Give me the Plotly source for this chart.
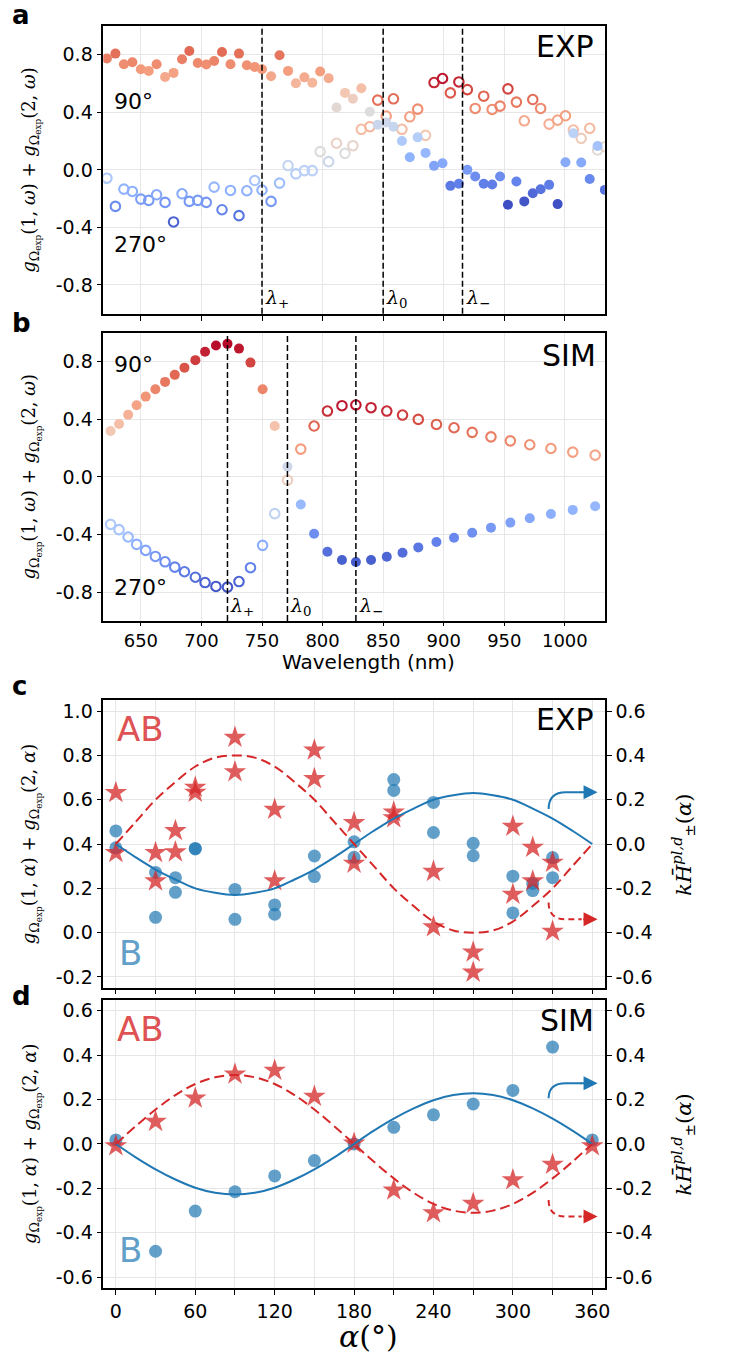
import plotly.graph_objects as go

# ---------------- data ----------------
# Panel a (EXP): wavelength grid and the two series (filled / open markers)
lam_a = [622, 629, 636, 643, 650, 656.5, 663, 670, 677, 684, 690, 697, 704, 710.5, 717, 724,
         731, 737.5, 744, 750, 757.5, 764.5, 771.5, 778, 785, 791.5, 798, 805, 811.5, 818.5,
         825, 832, 839, 845.5, 852.5, 858.5, 865.5, 872, 878.5, 885, 892, 899, 905.5, 912.5,
         919.5, 926, 933, 940, 946.5, 953, 960, 966.5, 973.5, 980, 987, 994, 1000.5, 1007,
         1013.5, 1020.5, 1027, 1033]
filled_a = [0.774, 0.808, 0.734, 0.748, 0.699, 0.688, 0.734, 0.646, 0.674, 0.769, 0.826, 0.743,
            0.732, 0.757, 0.819, 0.734, 0.808, 0.727, 0.715, 0.699, 0.651, 0.796, 0.688, 0.602,
            0.643, 0.605, 0.684, 0.637, 0.434, 0.535, 0.495, 0.567, 0.404, 0.314, 0.33, 0.300,
            0.201, 0.088, 0.226, 0.118, 0.028, 0.046, -0.111, -0.097, 0.0, -0.046, -0.097,
            -0.101, -0.046, -0.242, -0.081, -0.219, -0.162, -0.134, -0.104, -0.238, 0.053,
            0.254, 0.051, -0.064, 0.166, -0.139]
open_a = [-0.058, -0.254, -0.134, -0.150, -0.203, -0.212, -0.173, -0.226, -0.362, -0.166, -0.219,
          -0.212, -0.226, -0.12, -0.277, -0.143, -0.318, -0.145, -0.074, -0.140, -0.219, -0.092,
          0.03, -0.028, -0.005, -0.005, 0.127, 0.057, 0.185, 0.115, 0.168, 0.282, 0.300, 0.485,
          0.374, 0.494, 0.282, 0.369, 0.422, 0.240, 0.607, 0.635, 0.535, 0.611, 0.558, 0.427,
          0.512, 0.420, 0.443, 0.563, 0.471, 0.341, 0.489, 0.427, 0.318, 0.346, 0.376, 0.277,
          0.219, 0.289, 0.138, 0.161]
lines_a = [750, 850, 915.5]

# Panel b (SIM)
lam_b = [625, 632, 639.5, 646.5, 654, 662, 670, 678, 686, 695, 703, 712,
         721.5, 731, 740.5, 750.5, 760.5, 771, 782, 793, 804, 816, 827.5,
         840, 853, 866, 879, 894, 908.5, 923.5, 939, 955, 971, 988.5, 1006.5, 1025]
filled_b = [0.318, 0.367, 0.431, 0.497, 0.557, 0.608, 0.659, 0.708, 0.758, 0.81, 0.868, 0.911,
            0.923, 0.89, 0.793, 0.608, 0.353, 0.070, -0.192, -0.394, -0.519, -0.577, -0.591,
            -0.577, -0.554, -0.526, -0.489, -0.452, -0.422, -0.387, -0.352, -0.317, -0.287,
            -0.257, -0.229, -0.204]
open_b = [-0.329, -0.366, -0.417, -0.468, -0.51, -0.552, -0.589, -0.626, -0.658, -0.696, -0.733, -0.76,
          -0.765, -0.726, -0.63, -0.475, -0.255, -0.023, 0.193, 0.353, 0.457, 0.494, 0.499,
          0.48, 0.457, 0.429, 0.399, 0.364, 0.341, 0.309, 0.278, 0.25, 0.223, 0.197, 0.172, 0.151]
lines_b = [721.5, 771, 827.5]
line_names = ["+", "0", "\u2212"]

# Panel c (EXP), angle data
alpha_c = [0, 0, 30, 30, 45, 45, 60, 60, 90, 90, 120, 120, 150, 150, 180, 180,
           210, 210, 240, 240, 270, 270, 300, 300, 315, 315, 330, 330]
AB_c = [0.632, 0.361, 0.361, 0.233, 0.46, 0.364, 0.656, 0.633, 0.881, 0.726, 0.556, 0.234,
        0.824, 0.695, 0.496, 0.313, 0.544, 0.518, 0.276, 0.026, -0.088, -0.179, 0.48, 0.173,
        0.385, 0.233, 0.317, 0.006]
B_c = [0.459, 0.383, 0.272, 0.069, 0.248, 0.182, 0.38, 0.378, 0.195, 0.06, 0.125, 0.083,
       0.346, 0.253, 0.41, 0.34, 0.691, 0.642, 0.588, 0.452, 0.403, 0.347, 0.255, 0.089,
       0.222, 0.19, 0.339, 0.248]

# Panel d (SIM)
alpha_d = [0, 30, 60, 90, 120, 150, 180, 210, 240, 270, 300, 330, 360]
AB_d = [-0.009, 0.101, 0.206, 0.314, 0.331, 0.214, 0.003, -0.208, -0.31, -0.268, -0.162, -0.092, -0.009]
B_d = [0.018, -0.483, -0.302, -0.215, -0.144, -0.075, 0.0, 0.075, 0.131, 0.18, 0.241, 0.436, 0.018]

# model curves (right axis), read every 15 degrees
alpha_fit = [0, 15, 30, 45, 60, 75, 90, 105, 120, 135, 150, 165, 180,
             195, 210, 225, 240, 255, 270, 285, 300, 315, 330, 345, 360]
fitAB_c = [0, 0.10, 0.20, 0.28, 0.35, 0.39, 0.40, 0.39, 0.35, 0.28, 0.20, 0.10, 0,
           -0.10, -0.20, -0.28, -0.35, -0.39, -0.40, -0.39, -0.35, -0.28, -0.20, -0.10, 0]
fitB_c = [0, -0.06, -0.115, -0.16, -0.20, -0.22, -0.23, -0.22, -0.20, -0.16, -0.115, -0.06, 0,
          0.06, 0.115, 0.16, 0.20, 0.22, 0.23, 0.22, 0.20, 0.16, 0.115, 0.06, 0]
fitAB_d = [0, 0.08, 0.155, 0.22, 0.27, 0.30, 0.31, 0.30, 0.27, 0.22, 0.155, 0.08, 0,
           -0.08, -0.155, -0.22, -0.27, -0.30, -0.31, -0.30, -0.27, -0.22, -0.155, -0.08, 0]
fitB_d = [0, -0.06, -0.114, -0.16, -0.197, -0.22, -0.228, -0.22, -0.197, -0.16, -0.114, -0.06, 0,
          0.06, 0.114, 0.16, 0.197, 0.22, 0.228, 0.22, 0.197, 0.16, 0.114, 0.06, 0]

wl_ticks = [650, 700, 750, 800, 850, 900, 950, 1000]
g_ticks = [-0.8, -0.4, 0.0, 0.4, 0.8]
ang_ticks = [0, 30, 60, 90, 120, 150, 180, 210, 240, 270, 300, 330, 360]
c_left_ticks = [-0.2, 0.0, 0.2, 0.4, 0.6, 0.8, 1.0]
pm_ticks = [-0.6, -0.4, -0.2, 0.0, 0.2, 0.4, 0.6]

# ---------------- styling helpers ----------------
W, H = 735, 1364
CW = [(59, 76, 192), (98, 130, 234), (141, 176, 254), (184, 208, 249), (221, 221, 221),
      (245, 196, 173), (244, 154, 123), (222, 96, 77), (180, 4, 38)]


def cscale(vmin, vc, vmax):
    f = (vc - vmin) / (vmax - vmin)
    out = []
    for i, c in enumerate(CW):
        t = i / 8
        p = t / 0.5 * f if t <= 0.5 else f + (t - 0.5) / 0.5 * (1 - f)
        out.append([p, "rgb(%d,%d,%d)" % c])
    return out


def px(x, y):
    return x / W, 1 - y / H


def dom_x(a, b):
    return [a / W, b / W]


def dom_y(top, bot):
    return [1 - bot / H, 1 - top / H]


def fmt(v):
    return "%.1f" % v


fig = go.Figure()


def add_series(x, y, xa, ya, sym, norm):
    vmin, vc, vmax = norm
    marker = dict(color=y, colorscale=cscale(vmin, vc, vmax), cmin=vmin, cmax=vmax, symbol=sym)
    if sym == "circle-open":
        marker["size"] = 9.5
        marker["line"] = dict(width=2.1)
    else:
        marker["size"] = 10
        marker["line"] = dict(width=0)
    fig.add_trace(go.Scatter(x=x, y=y, mode="markers", marker=marker, xaxis=xa, yaxis=ya,
                             showlegend=False, hoverinfo="skip"))


add_series(lam_a, open_a, "x", "y", "circle-open", (-0.42, 0.12, 0.66))
add_series(lam_a, filled_a, "x", "y", "circle", (-0.25, 0.40, 1.0))
add_series(lam_b, open_b, "x2", "y2", "circle-open", (-0.80, -0.13, 0.53))
add_series(lam_b, filled_b, "x2", "y2", "circle", (-0.65, 0.15, 0.93))

RED = "#d62728"
BLUE = "#1f77b4"

for xa, ya, yr, ab, b, fab, fb in [("x3", "y3", "y5", AB_c, B_c, fitAB_c, fitB_c),
                                    ("x4", "y4", "y6", AB_d, B_d, fitAB_d, fitB_d)]:
    xs = alpha_c if xa == "x3" else alpha_d
    fig.add_trace(go.Scatter(x=xs, y=b, mode="markers", xaxis=xa, yaxis=ya, showlegend=False,
                             marker=dict(size=13, color=BLUE, opacity=0.7, line=dict(width=0))))
    fig.add_trace(go.Scatter(x=xs, y=ab, mode="markers", xaxis=xa, yaxis=ya, showlegend=False,
                             marker=dict(size=17, symbol="star", color=RED, opacity=0.75,
                                         line=dict(width=0))))
    fig.add_trace(go.Scatter(x=alpha_fit, y=fb, mode="lines", xaxis=xa, yaxis=yr, showlegend=False,
                             line=dict(color=BLUE, width=2, shape="spline")))
    fig.add_trace(go.Scatter(x=alpha_fit, y=fab, mode="lines", xaxis=xa, yaxis=yr, showlegend=False,
                             line=dict(color=RED, width=2, shape="spline", dash="10px,5px")))

TICKFONT = dict(family="DejaVu Sans", size=19, color="black")
axis_common = dict(showline=True, mirror=True, linecolor="black", linewidth=1.5,
                   ticks="outside", ticklen=5, tickwidth=1.2, tickcolor="black",
                   showgrid=True, gridcolor="#e6e6e6", gridwidth=1.2, zeroline=False,
                   tickfont=TICKFONT)

XD = dom_x(104, 609)
layout = dict(
    width=W, height=H, margin=dict(l=0, r=0, t=0, b=0), autosize=False,
    paper_bgcolor="white", plot_bgcolor="white",
    xaxis=dict(domain=XD, anchor="y", range=[619, 1033], tickvals=wl_ticks,
               showticklabels=False, **axis_common),
    yaxis=dict(domain=dom_y(25, 313), anchor="x", range=[-1.0, 1.0], tickvals=g_ticks,
               ticktext=[fmt(v) for v in g_ticks], **axis_common),
    xaxis2=dict(domain=XD, anchor="y2", range=[619, 1033], tickvals=wl_ticks,
                ticktext=[str(v) for v in wl_ticks],
                **{**axis_common, "ticklen": 3, "tickfont": dict(TICKFONT, size=18)}),
    yaxis2=dict(domain=dom_y(332, 620.5), anchor="x2", range=[-1.0, 1.0], tickvals=g_ticks,
                ticktext=[fmt(v) for v in g_ticks], **axis_common),
    xaxis3=dict(domain=XD, anchor="y3", range=[-9.5, 369.5], tickvals=ang_ticks,
                showticklabels=False, **axis_common),
    yaxis3=dict(domain=dom_y(700, 987.3), anchor="x3", range=[-0.248, 1.048],
                tickvals=c_left_ticks, ticktext=[fmt(v) for v in c_left_ticks], **axis_common),
    xaxis4=dict(domain=XD, anchor="y4", range=[-9.5, 369.5], tickvals=ang_ticks,
                ticktext=[str(v) if v % 60 == 0 else "" for v in ang_ticks], **axis_common),
    yaxis4=dict(domain=dom_y(999.3, 1288.3), anchor="x4", range=[-0.65, 0.65],
                tickvals=pm_ticks, ticktext=[fmt(v) for v in pm_ticks], **axis_common),
    yaxis5=dict(overlaying="y3", anchor="x3", side="right", range=[-0.648, 0.648],
                tickvals=pm_ticks, ticktext=[fmt(v) for v in pm_ticks],
                **{**axis_common, "showgrid": False, "mirror": False}),
    yaxis6=dict(overlaying="y4", anchor="x4", side="right", range=[-0.65, 0.65],
                tickvals=pm_ticks, ticktext=[fmt(v) for v in pm_ticks],
                **{**axis_common, "showgrid": False, "mirror": False}),
)
fig.update_layout(**layout)

# vertical dashed lines + lambda labels
shapes = []
annotations = []
for xa, ya, lines in [("x", "y", lines_a), ("x2", "y2", lines_b)]:
    for lam, nm in zip(lines, line_names):
        shapes.append(dict(type="line", xref=xa, yref=ya + " domain", x0=lam, x1=lam, y0=0, y1=1,
                           line=dict(color="black", width=1.5, dash="6px,3px")))
        annotations.append(dict(xref=xa, yref=ya + " domain", x=lam, y=0.005, xanchor="left",
                                yanchor="bottom", xshift=2, showarrow=False, bgcolor="white",
                                borderpad=0,
                                text="<i>\u03bb</i><sub>%s</sub>" % nm,
                                font=dict(family="DejaVu Serif", size=19, color="black")))

# curved arrows pointing to the right axis
for xa, yr, yb0, yb1, yr0, yr1 in [("x3", "y5", 0.158, 0.234, -0.264, -0.340),
                                    ("x4", "y6", 0.206, 0.273, -0.252, -0.327)]:
    shapes.append(dict(type="path", xref=xa, yref=yr,
                       path="M 327,%g Q 327,%g 340,%g L 352,%g" % (yb0, yb1, yb1, yb1),
                       line=dict(color=BLUE, width=2)))
    annotations.append(dict(xref=xa, yref=yr, axref=xa, ayref=yr, x=364, y=yb1, ax=350, ay=yb1,
                            text="", showarrow=True, arrowhead=2, arrowsize=1.4, arrowwidth=2,
                            arrowcolor=BLUE))
    shapes.append(dict(type="path", xref=xa, yref=yr,
                       path="M 327,%g Q 327,%g 340,%g L 352,%g" % (yr0, yr1, yr1, yr1),
                       line=dict(color=RED, width=2, dash="6px,4px")))
    annotations.append(dict(xref=xa, yref=yr, axref=xa, ayref=yr, x=364, y=yr1, ax=352, ay=yr1,
                            text="", showarrow=True, arrowhead=2, arrowsize=1.4, arrowwidth=2,
                            arrowcolor=RED))


def txt(x, y, s, size, color="black", family="DejaVu Sans", xanchor="left", angle=0, bold=False):
    X, Y = px(x, y)
    if bold:
        s = "<b>%s</b>" % s
    annotations.append(dict(xref="paper", yref="paper", x=X, y=Y, text=s, showarrow=False,
                            xanchor=xanchor, yanchor="middle", textangle=angle,
                            font=dict(family=family, size=size, color=color)))


# panel letters
txt(10, 14, "a", 26, bold=True)
txt(10, 322, "b", 26, bold=True)
txt(10, 686, "c", 26, bold=True)
txt(10, 996, "d", 26, bold=True)

# in-panel labels
txt(113, 101, "90\u00b0", 22)
txt(113, 244, "270\u00b0", 22)
txt(113, 364, "90\u00b0", 22)
txt(113, 587, "270\u00b0", 22)
txt(600, 46, "EXP", 30, xanchor="right")
txt(602, 355, "SIM", 30, xanchor="right")
txt(600, 719, "EXP", 30, xanchor="right")
txt(600, 1020, "SIM", 30, xanchor="right")
AB_COL = "#de5253"
B_COL = "#62a0ca"
txt(116, 729, "AB", 34, AB_COL)
txt(118, 953, "B", 34, B_COL)
txt(116, 1029, "AB", 34, AB_COL)
txt(118, 1250, "B", 34, B_COL)

# axis titles
gw = ("<i>g</i><sub>\u03a9<sub>exp</sub></sub>(1, <i>\u03c9</i>) + "
      "<i>g</i><sub>\u03a9<sub>exp</sub></sub>(2, <i>\u03c9</i>)")
ga = ("<i>g</i><sub>\u03a9<sub>exp</sub></sub>(1, <i>\u03b1</i>) + "
      "<i>g</i><sub>\u03a9<sub>exp</sub></sub>(2, <i>\u03b1</i>)")
kh = "<i>k</i><i>H\u0304</i><sup><i>pl,d</i></sup><sub>\u00b1</sub>(<i>\u03b1</i>)"
txt(31, 169, gw, 18, family="DejaVu Serif", xanchor="center", angle=-90)
txt(31, 476, gw, 18, family="DejaVu Serif", xanchor="center", angle=-90)
txt(31, 844, ga, 18, family="DejaVu Serif", xanchor="center", angle=-90)
txt(31, 1144, ga, 18, family="DejaVu Serif", xanchor="center", angle=-90)
txt(688, 844, kh, 21, family="DejaVu Serif", xanchor="center", angle=-90)
txt(688, 1144, kh, 21, family="DejaVu Serif", xanchor="center", angle=-90)
txt(371, 661, "Wavelength (nm)", 20, xanchor="center")
txt(371, 1336, "<i>\u03b1</i>(\u00b0)", 30, family="DejaVu Serif", xanchor="center")

fig.update_layout(shapes=shapes, annotations=annotations)
fig.write_html("out.html")
